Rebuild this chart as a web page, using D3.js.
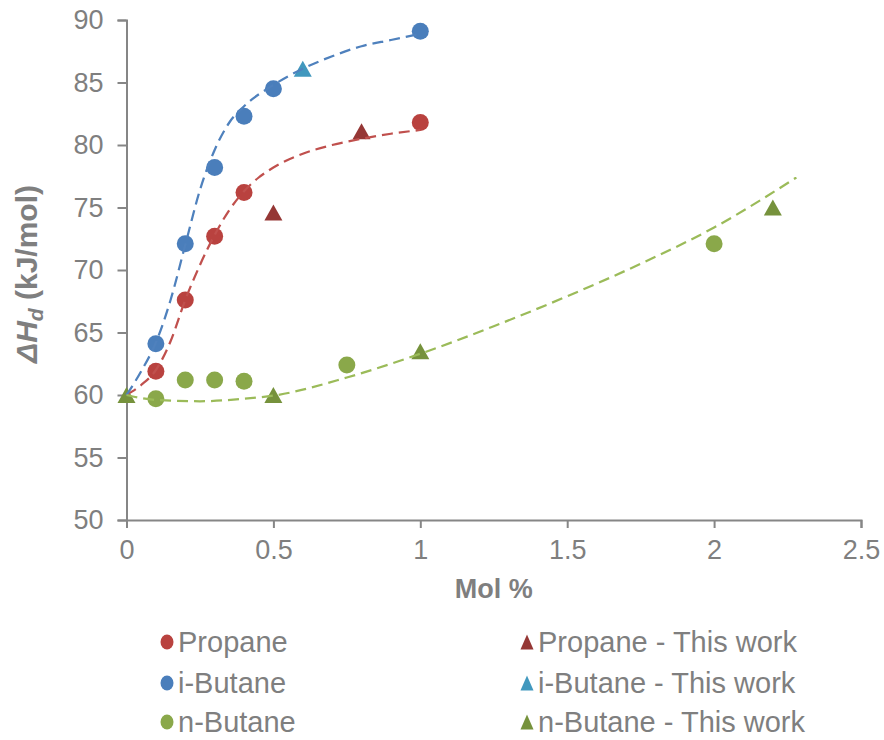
<!DOCTYPE html>
<html>
<head>
<meta charset="utf-8">
<script src="https://cdn.jsdelivr.net/npm/d3@7"></script>
<style>
  body { margin: 0; background: #fff; }
  text { font-family: "Liberation Sans", Arial, sans-serif; fill: #7f7f7f; }
</style>
</head>
<body>
<svg id="chart" width="884" height="740"></svg>
<script>
// measured points, [mol %, dHd]
var propane = [[0.1,61.9],[0.2,67.6],[0.3,72.7],[0.4,76.2],[1.0,81.8]];
var propaneWork = [[0.5,74.6],[0.8,81.1]];
var iButane = [[0.1,64.1],[0.2,72.1],[0.3,78.2],[0.4,82.3],[0.5,84.5],[1.0,89.1]];
var iButaneWork = [[0.6,86.1]];
var nButane = [[0.1,59.7],[0.2,61.2],[0.3,61.2],[0.4,61.1],[0.75,62.4],[2.0,72.1]];
var nButaneWork = [[0,60],[0.5,60],[1.0,63.5],[2.2,75]];

// trend lines
var propaneTrend = [[0,60],[0.05,60.8],[0.1,62.0],[0.15,64.3],[0.2,67.6],[0.25,70.4],[0.3,72.8],[0.35,74.8],[0.4,76.3],[0.45,77.4],[0.5,78.2],[0.6,79.3],[0.7,80.0],[0.8,80.5],[0.9,80.9],[1.0,81.2]];
var iButaneTrend = [[0,60],[0.05,61.9],[0.1,64.2],[0.15,67.6],[0.2,72.0],[0.25,76.4],[0.3,79.6],[0.35,81.8],[0.4,83.1],[0.5,84.8],[0.6,86.1],[0.7,87.1],[0.8,87.9],[0.9,88.4],[1.0,88.9]];
var nButaneTrend = [[0,60],[0.1,59.6],[0.25,59.5],[0.4,59.7],[0.5,59.95],[0.75,61.4],[1.0,63.3],[1.25,65.5],[1.5,67.9],[1.75,70.5],[2.0,73.4],[2.28,77.4]];

var xTicks = [0,0.5,1,1.5,2,2.5];
var yTicks = [50,55,60,65,70,75,80,85,90];

var legendItems = [
  {label:'Propane', shape:'circle', color:'#b9423f'},
  {label:'Propane - This work', shape:'triangle', color:'#953735'},
  {label:'i-Butane', shape:'circle', color:'#4a7ebb'},
  {label:'i-Butane - This work', shape:'triangle', color:'#4198be'},
  {label:'n-Butane', shape:'circle', color:'#8aa84a'},
  {label:'n-Butane - This work', shape:'triangle', color:'#76923c'}
];

var svg = d3.select('#chart');
var plotL = 126.5, plotR = 861, plotT = 20, plotB = 520;
var x = d3.scaleLinear().domain([0,2.5]).range([plotL,plotR]);
var y = d3.scaleLinear().domain([50,90]).range([plotB,plotT]);
var axisColor = '#868686';

var yAxis = svg.append('g').attr('transform','translate('+plotL+',0)')
  .call(d3.axisLeft(y).tickValues(yTicks).tickSize(9).tickPadding(14));
var xAxis = svg.append('g').attr('transform','translate(0,'+plotB+')')
  .call(d3.axisBottom(x).tickValues(xTicks).tickSize(8).tickPadding(12).tickFormat(d3.format('')));
[xAxis,yAxis].forEach(function(a) {
  a.select('.domain').attr('stroke',axisColor).attr('stroke-width',2);
  a.selectAll('.tick line').attr('stroke',axisColor).attr('stroke-width',2);
  a.selectAll('.tick text').style('font-size','27px').attr('fill','#7f7f7f');
});

function tri(w,h) {
  return 'M0,'+(-h/2)+'L'+(w/2)+','+(h/2)+'L'+(-w/2)+','+(h/2)+'Z';
}

var line = d3.line().x(function(d){return x(d[0]);}).y(function(d){return y(d[1]);}).curve(d3.curveMonotoneX);

var marks = svg.append('g');
function circles(data,color) {
  marks.selectAll(null).data(data).enter().append('circle')
    .attr('cx',function(d){return x(d[0]);}).attr('cy',function(d){return y(d[1]);})
    .attr('r',8.5).style('fill',color);
}
function triangles(data,color) {
  marks.selectAll(null).data(data).enter().append('path')
    .attr('d',tri(18,16))
    .attr('transform',function(d){return 'translate('+x(d[0])+','+y(d[1])+')';})
    .style('fill',color);
}
circles(propane,'#b9423f');
circles(iButane,'#4a7ebb');
circles(nButane,'#8aa84a');
triangles(propaneWork,'#953735');
triangles(iButaneWork,'#4198be');
triangles(nButaneWork,'#76923c');

var trends = [[propaneTrend,'#c0504d'],[iButaneTrend,'#4f81bd'],[nButaneTrend,'#9bbb59']];
svg.append('g').selectAll('path').data(trends).enter().append('path')
  .attr('d',function(d){return line(d[0]);})
  .style('fill','none').style('stroke',function(d){return d[1];})
  .style('stroke-width',2.25).style('stroke-dasharray','11,6');

// axis titles
svg.append('text').attr('x',(plotL+plotR)/2).attr('y',598).attr('text-anchor','middle')
  .style('font-size','27px').style('font-weight','bold').text('Mol %');
var yt = svg.append('text').attr('transform','translate(37,274) rotate(-90)').attr('text-anchor','middle')
  .style('font-size','30px').style('font-weight','bold');
yt.append('tspan').style('font-style','italic').text('ΔH');
yt.append('tspan').style('font-style','italic').style('font-size','21px').attr('dy',6).text('d');
yt.append('tspan').attr('dy',-6).text(' (kJ/mol)');

// legend
var leg = svg.append('g');
var rows = [642,683,722], cols = [167,527];
legendItems.forEach(function(it,i) {
  var cx = cols[i%2], cy = rows[Math.floor(i/2)];
  if (it.shape === 'circle') {
    leg.append('ellipse').attr('cx',cx).attr('cy',cy).attr('rx',6.5).attr('ry',7.5).style('fill',it.color);
  } else {
    leg.append('path').attr('d',tri(13,15)).attr('transform','translate('+cx+','+cy+')').style('fill',it.color);
  }
  leg.append('text').attr('x',cx+11).attr('y',cy+10).style('font-size','29px').text(it.label);
});
</script>
</body>
</html>
